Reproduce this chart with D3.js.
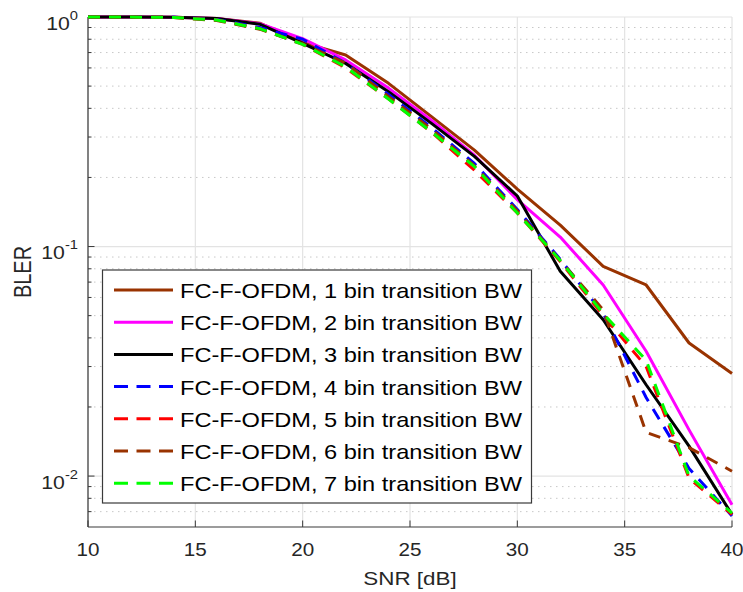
<!DOCTYPE html>
<html>
<head>
<meta charset="utf-8">
<script src="https://cdn.jsdelivr.net/npm/d3@7"></script>
<style>
  body { margin: 0; background: #fff; }
  svg { display: block; font-family: "Liberation Sans", Arial, Helvetica, sans-serif; }
</style>
</head>
<body>
<div id="chart"></div>
<script>
// data
const snr = [10, 12, 14, 16, 18, 20, 22, 24, 26, 28, 30, 32, 34, 36, 38, 40];

const bin1 = [1, 1, 0.998, 0.985, 0.94, 0.775, 0.683, 0.514, 0.368, 0.263, 0.178, 0.124, 0.082, 0.068, 0.038, 0.028];
const bin2 = [1, 1, 0.998, 0.985, 0.935, 0.805, 0.65, 0.49, 0.355, 0.25, 0.16, 0.110, 0.068, 0.035, 0.0159, 0.0075];
const bin3 = [1, 1, 0.998, 0.985, 0.93, 0.768, 0.628, 0.473, 0.344, 0.247, 0.166, 0.078, 0.048, 0.025, 0.0135, 0.0068];
const bin4 = [1, 1, 0.997, 0.975, 0.9, 0.8, 0.63, 0.46, 0.33, 0.23, 0.145, 0.088, 0.051, 0.022, 0.0108, 0.0067];
const bin5 = [1, 1, 0.995, 0.97, 0.89, 0.76, 0.6, 0.44, 0.315, 0.215, 0.14, 0.086, 0.05, 0.03, 0.0098, 0.0068];
const bin6 = [1, 1, 0.995, 0.965, 0.885, 0.765, 0.63, 0.45, 0.325, 0.225, 0.143, 0.087, 0.053, 0.0155, 0.0133, 0.0105];
const bin7 = [1, 1, 0.995, 0.97, 0.89, 0.76, 0.607, 0.439, 0.316, 0.223, 0.14, 0.087, 0.051, 0.032, 0.0100, 0.0069];

const seriesNames = [
  "FC-F-OFDM, 1 bin transition BW",
  "FC-F-OFDM, 2 bin transition BW",
  "FC-F-OFDM, 3 bin transition BW",
  "FC-F-OFDM, 4 bin transition BW",
  "FC-F-OFDM, 5 bin transition BW",
  "FC-F-OFDM, 6 bin transition BW",
  "FC-F-OFDM, 7 bin transition BW"
];
const seriesValues = [bin1, bin2, bin3, bin4, bin5, bin6, bin7];
const seriesColors = ["#993300", "#ff00ff", "#000000", "#0000ff", "#ff0000", "#993300", "#00ff00"];
const seriesDashed = [false, false, false, true, true, true, true];

const xTicks = [10, 15, 20, 25, 30, 35, 40];
const yTicks = [1, 0.1, 0.01];
const yTickExp = ["0", "-1", "-2"];

// figure was stretched sideways, so text is too
const SX = 1.18;

const width = 743, height = 592;
const svg = d3.select("#chart").append("svg")
  .attr("width", width)
  .attr("height", height);

const x = d3.scaleLinear().domain([10, 40]).range([88, 732]);
const y = d3.scaleLog().domain([0.006, 1]).range([527, 17]);

// minor values for dotted grid / small ticks
var minorY = [];
[0.001, 0.01, 0.1].forEach(function (dec) {
  for (var k = 2; k <= 9; k++) {
    var v = dec * k;
    if (v > 0.006 && v < 1) minorY.push(v);
  }
});

function stretchText(parent, px, py, str) {
  return parent.append("text")
    .attr("transform", "translate(" + px + "," + py + ") scale(" + SX + ",1)")
    .text(str);
}

// grid
const grid = svg.append("g");
grid.selectAll("line.minor")
  .data(minorY)
  .enter()
  .append("line")
  .attr("class", "minor")
  .attr("x1", x(10)).attr("x2", x(40))
  .attr("y1", function (d) { return y(d); })
  .attr("y2", function (d) { return y(d); })
  .attr("stroke", "#c8c8c8")
  .attr("stroke-width", 1)
  .attr("stroke-dasharray", "1.5,4.5");

grid.selectAll("line.majory")
  .data(yTicks)
  .enter()
  .append("line")
  .attr("class", "majory")
  .attr("x1", x(10)).attr("x2", x(40))
  .attr("y1", function (d) { return y(d); })
  .attr("y2", function (d) { return y(d); })
  .attr("stroke", "#e3e3e3")
  .attr("stroke-width", 1.2);

grid.selectAll("line.majorx")
  .data(xTicks)
  .enter()
  .append("line")
  .attr("class", "majorx")
  .attr("x1", function (d) { return x(d); })
  .attr("x2", function (d) { return x(d); })
  .attr("y1", y(0.006)).attr("y2", y(1))
  .attr("stroke", "#e3e3e3")
  .attr("stroke-width", 1.2);

// axes lines and ticks
const axes = svg.append("g").attr("stroke", "#3a3a3a");
axes.append("line")
  .attr("x1", x(10)).attr("x2", x(40))
  .attr("y1", y(0.006)).attr("y2", y(0.006))
  .attr("stroke-width", 1.2);
axes.append("line")
  .attr("x1", x(10)).attr("x2", x(10))
  .attr("y1", y(0.006)).attr("y2", y(1))
  .attr("stroke-width", 1.2);

axes.selectAll("line.xt")
  .data(xTicks)
  .enter()
  .append("line")
  .attr("class", "xt")
  .attr("x1", function (d) { return x(d); })
  .attr("x2", function (d) { return x(d); })
  .attr("y1", y(0.006)).attr("y2", y(0.006) - 6.5)
  .attr("stroke-width", 1);

axes.selectAll("line.yt")
  .data(yTicks)
  .enter()
  .append("line")
  .attr("class", "yt")
  .attr("x1", x(10)).attr("x2", x(10) + 6.5)
  .attr("y1", function (d) { return y(d); })
  .attr("y2", function (d) { return y(d); })
  .attr("stroke-width", 1);

axes.selectAll("line.ymt")
  .data(minorY)
  .enter()
  .append("line")
  .attr("class", "ymt")
  .attr("x1", x(10)).attr("x2", x(10) + 3.5)
  .attr("y1", function (d) { return y(d); })
  .attr("y2", function (d) { return y(d); })
  .attr("stroke-width", 1);

// tick labels
const labels = svg.append("g").attr("fill", "#262626");
xTicks.forEach(function (t) {
  stretchText(labels, x(t), 556, String(t))
    .attr("text-anchor", "middle")
    .attr("font-size", 17.5);
});

yTicks.forEach(function (t, i) {
  var txt = labels.append("text")
    .attr("transform", "translate(78," + (y(t) + 12.5) + ") scale(" + SX + ",1)")
    .attr("text-anchor", "end")
    .attr("font-size", 18);
  txt.append("tspan").text("10");
  txt.append("tspan")
    .attr("font-size", 12.5)
    .attr("dy", -10)
    .text(yTickExp[i]);
});

// axis titles
stretchText(labels, (x(10) + x(40)) / 2, 585, "SNR [dB]")
  .attr("text-anchor", "middle")
  .attr("font-size", 19);

labels.append("text")
  .attr("transform", "translate(31," + ((y(1) + y(0.006)) / 2) + ") scale(" + SX + ",1) rotate(-90)")
  .attr("text-anchor", "middle")
  .attr("font-size", 20)
  .text("BLER");

// curves
const line = d3.line()
  .x(function (d) { return x(d[0]); })
  .y(function (d) { return y(d[1]); });

seriesValues.forEach(function (vals, i) {
  var pts = snr.map(function (s, j) { return [s, vals[j]]; });
  svg.append("path")
    .datum(pts)
    .attr("d", line)
    .attr("fill", "none")
    .attr("stroke", seriesColors[i])
    .attr("stroke-width", 3)
    .attr("stroke-linejoin", "round")
    .attr("stroke-dasharray", seriesDashed[i] ? "12,9" : null);
});

// legend
const legend = svg.append("g");
legend.append("rect")
  .attr("x", 102.5).attr("y", 270)
  .attr("width", 429).attr("height", 233)
  .attr("fill", "#fff")
  .attr("stroke", "#3a3a3a")
  .attr("stroke-width", 1.2);

seriesNames.forEach(function (name, i) {
  var ry = 290 + i * 32.2;
  legend.append("line")
    .attr("x1", 114).attr("x2", 173)
    .attr("y1", ry).attr("y2", ry)
    .attr("stroke", seriesColors[i])
    .attr("stroke-width", 3)
    .attr("stroke-dasharray", seriesDashed[i] ? "14,8.5" : null);
  stretchText(legend, 180, ry + 8, name)
    .attr("font-size", 20)
    .attr("fill", "#000");
});
</script>
</body>
</html>
